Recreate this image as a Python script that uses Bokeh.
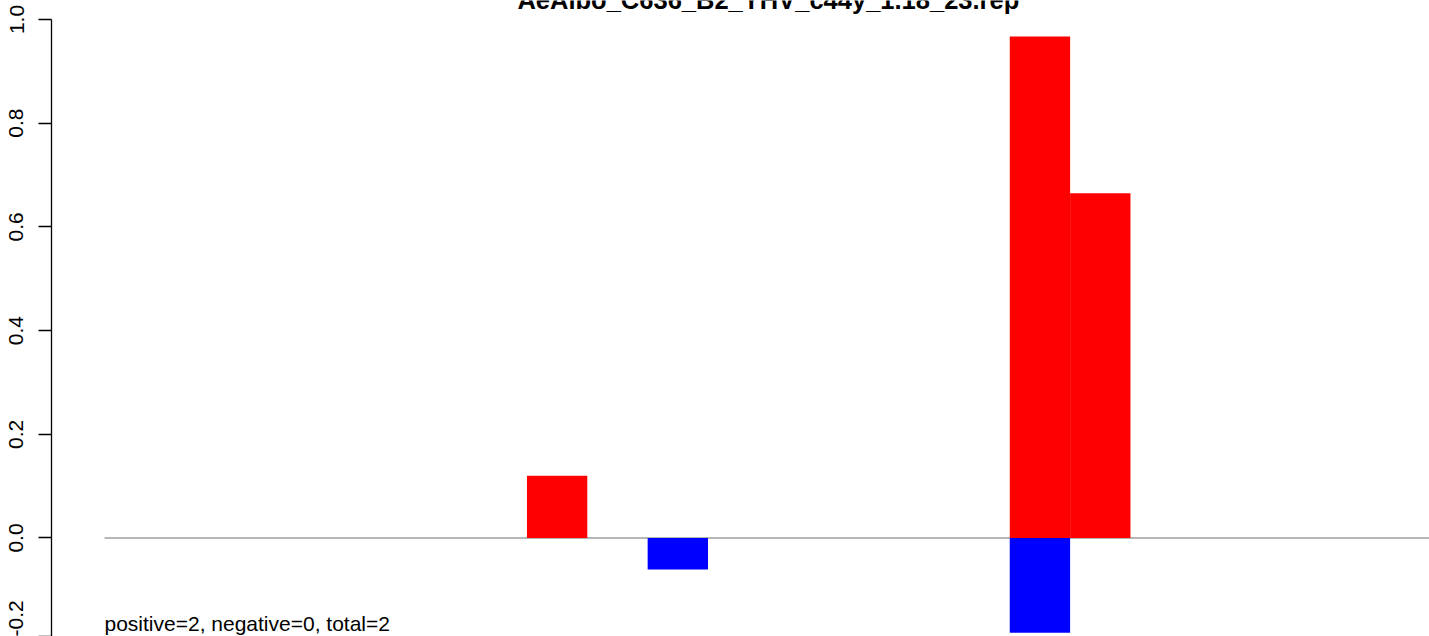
from bokeh.plotting import figure
from bokeh.models import Range1d, FixedTicker, NumeralTickFormatter, ColumnDataSource
from bokeh.core.properties import value
from bokeh.embed import file_html
from bokeh.resources import INLINE

# ---- data ----
title_text = "AeAlbo_C636_B2_YHV_c44y_1.18_23.rep"
footer_text = "positive=2, negative=0, total=2"
n_slots = 22
pos_slots = [7, 15, 16]
pos_values = [0.12, 0.967, 0.665]
neg_slots = [9, 15]
neg_values = [-0.061, -0.183]
y_ticks = [-0.2, 0.0, 0.2, 0.4, 0.6, 0.8, 1.0]

FONT = "Liberation Sans"
Y_LO, Y_HI = -0.19, 1.0366

p = figure(width=1429, height=636, output_backend="svg", toolbar_location=None,
           x_range=Range1d(-0.878, 21.955), y_range=Range1d(Y_LO, Y_HI),
           min_border_left=51, min_border_right=0, min_border_top=0, min_border_bottom=0,
           x_axis_location=None)
p.outline_line_color = None
p.xgrid.visible = False
p.ygrid.visible = False
p.background_fill_color = "white"
p.border_fill_color = "white"

# y axis: the lowest tick (-0.2) lies just below the visible area; its label is
# shown at the lower edge
shown_ticks = [max(t, Y_LO) for t in y_ticks]
ax = p.yaxis[0]
ax.ticker = FixedTicker(ticks=shown_ticks)
ax.formatter = NumeralTickFormatter(format="0.0")
ax.major_label_overrides = {Y_LO: "-0.2"}
ax.bounds = (min(y_ticks), max(y_ticks))
ax.major_label_orientation = "vertical"
ax.major_label_text_font = FONT
ax.major_label_text_font_size = "21px"
ax.major_label_text_color = "black"
ax.major_tick_out = 13
ax.major_tick_in = 0
ax.minor_tick_out = 0
ax.minor_tick_in = 0
ax.major_label_standoff = 15
ax.axis_line_color = "black"
ax.major_tick_line_color = "black"
ax.axis_line_width = 1.3
ax.major_tick_line_width = 1.3

# zero line
p.segment(x0=[0], x1=[n_slots], y0=[0], y1=[0], line_color="#6e6e6e", line_width=1.2)

pos_src = ColumnDataSource(dict(x=[s + 0.5 for s in pos_slots], top=pos_values))
neg_src = ColumnDataSource(dict(x=[s + 0.5 for s in neg_slots], bottom=neg_values))
p.vbar(x="x", top="top", bottom=0, width=1.0, source=pos_src, fill_color="#FF0000", line_color=None)
p.vbar(x="x", top=0, bottom="bottom", width=1.0, source=neg_src, fill_color="#0000FF", line_color=None)

# footer text
p.text(x=[0], y=[-0.1643], text=[footer_text], text_font=value(FONT), text_font_size="21px",
       text_align="left", text_baseline="middle", text_color="black")

# title (mostly cut off at the top edge, as in the reference)
p.text(x=[n_slots / 2], y=[1.0382], text=[title_text], text_font=value(FONT),
       text_font_size="25.5px", text_font_style="bold", text_align="center",
       text_baseline="middle", text_color="black")

open("out.html", "w").write(file_html(p, INLINE))
